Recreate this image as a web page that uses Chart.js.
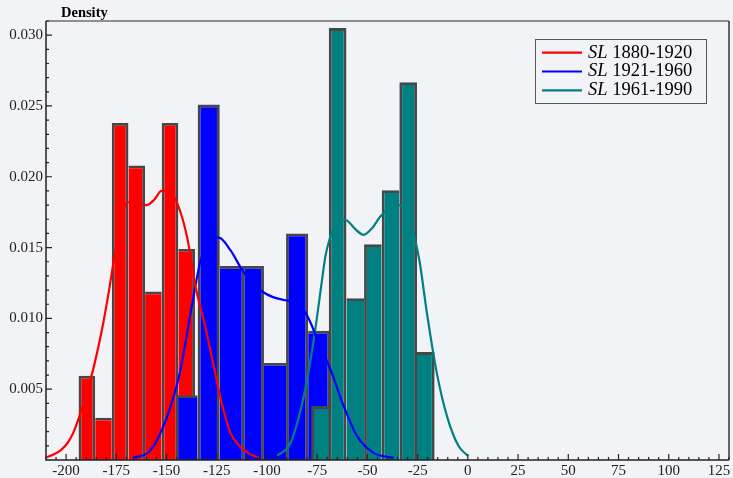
<!DOCTYPE html>
<html><head><meta charset="utf-8">
<script src="https://cdn.jsdelivr.net/npm/chart.js@4.4.1/dist/chart.umd.min.js"></script>
<style>html,body{margin:0;padding:0;background:#f2f3f7;}canvas{display:block;}</style>
</head><body>
<canvas id="c" width="733" height="478"></canvas>
<script>
// ---------- data ----------
const seriesNames = ['1880-1920', '1921-1960', '1961-1990'];
const seriesColors = ['#ff0000', '#0000ff', '#008080'];

// histograms: left edge of first bin, bin width, densities
const redBinStart = -193.8, redBinWidth = 8.28;
const redDensity = [0.00595, 0.00298, 0.0238, 0.0208, 0.0119, 0.0238, 0.0149];
const blueBinStart = -145.5, blueBinWidth = 11.0;
const blueDensity = [0.00457, 0.0251, 0.0137, 0.0137, 0.00685, 0.0160, 0.00913];
const tealBinStart = -78.0, tealBinWidth = 8.78;
const tealDensity = [0.00381, 0.0305, 0.01143, 0.01524, 0.01905, 0.02667, 0.00762];

// kernel density curves
const redKdeX = [-209.6, -206, -202.6, -199.3, -196.5, -193.8, -190, -186, -182, -178.6, -176, -173, -169.5, -165, -160, -156, -152.5, -149, -144.6, -139.7, -135.5, -131, -127.2, -122.5, -118.1, -113, -108.2, -104.1];
const redKdeY = [0.0002, 0.0004, 0.0007, 0.0012, 0.0019, 0.0029, 0.0046, 0.0067, 0.0093, 0.0120, 0.0143, 0.0166, 0.0182, 0.0182, 0.0180, 0.0184, 0.0190, 0.0190, 0.0181, 0.0157, 0.0122, 0.0096, 0.0071, 0.0040, 0.0019, 0.0009, 0.0004, 0.00015];
const blueKdeX = [-166.7, -157.9, -149.6, -143, -138, -133, -128.1, -124, -118.1, -112.7, -108, -102.4, -97, -91.6, -86, -81.7, -78, -75, -68.4, -61.8, -55.2, -46.9, -37];
const blueKdeY = [0.00015, 0.0007, 0.0031, 0.0064, 0.0104, 0.0141, 0.0155, 0.0157, 0.0148, 0.0135, 0.0126, 0.0119, 0.0115, 0.0113, 0.0111, 0.0106, 0.0096, 0.0085, 0.0064, 0.0038, 0.0017, 0.0005, 0.00015];
const tealKdeX = [-94.9, -88.3, -81.7, -76.7, -72.6, -70.9, -68.4, -66, -63, -60.1, -56, -51.9, -47.5, -43.6, -38.5, -34.5, -30.5, -27, -24, -20.4, -15.4, -10.4, -4.7, 0];
const tealKdeY = [0.0003, 0.0012, 0.0045, 0.0085, 0.0127, 0.0144, 0.0158, 0.0166, 0.0170, 0.0169, 0.0163, 0.0159, 0.0164, 0.0172, 0.0178, 0.0180, 0.0175, 0.0160, 0.0140, 0.0104, 0.0061, 0.0031, 0.0010, 0.0003];

// axes
const xMin = -210, xMax = 130;
const yMin = 0, yMax = 0.031;
const xTicks = [-200, -175, -150, -125, -100, -75, -50, -25, 0, 25, 50, 75, 100, 125];
const yTicks = [0.005, 0.010, 0.015, 0.020, 0.025, 0.030];
const xMinorStep = 5, yMinorStep = 0.001;
const yTitle = 'Density';
const legendPrefix = 'SL';

// ---------- build ----------
const SERIF = "'Liberation Serif', 'Times New Roman', serif";
const BG = '#f2f3f7';
const BW = 2.8;

function barPoints(start, width, dens) {
  return dens.map((d, i) => ({ x: start + (i + 0.5) * width, y: d }));
}
function linePoints(xs, ys) { return xs.map((x, i) => ({ x: x, y: ys[i] })); }

function borderFor(c) {
  const data = c.dataset.data, i = c.dataIndex, h = data[i] ? data[i].y : 0;
  const prev = i > 0 ? data[i - 1].y : -1;
  const next = i < data.length - 1 ? data[i + 1].y : -1;
  return { top: BW, bottom: 0, left: (prev <= h) ? BW : 0, right: (next < h) ? BW : 0 };
}

function barDataset(points, color, axis, order) {
  return {
    type: 'bar', data: points, xAxisID: axis, yAxisID: 'y', order: order,
    backgroundColor: color, borderColor: '#474747', borderWidth: borderFor,
    borderSkipped: 'start', barPercentage: 1, categoryPercentage: 1, grouped: false,
    inflateAmount: 0
  };
}
function lineDataset(points, color) {
  return {
    type: 'line', data: points, xAxisID: 'x', yAxisID: 'y', order: 0,
    borderColor: color, borderWidth: 2.2, pointRadius: 0, fill: false,
    cubicInterpolationMode: 'monotone'
  };
}

const hiddenAxis = () => ({ type: 'linear', display: false, offset: false, min: xMin, max: xMax,
  grid: { offset: false }, ticks: { stepSize: 100, includeBounds: false } });

const decor = {
  id: 'decor',
  beforeDraw(chart) {
    const ctx = chart.ctx;
    ctx.save(); ctx.fillStyle = BG; ctx.fillRect(0, 0, chart.width, chart.height); ctx.restore();
  },
  afterDatasetsDraw(chart) {
    const ctx = chart.ctx, ca = chart.chartArea, xs = chart.scales.x, ys = chart.scales.y;
    ctx.save();
    // frame
    ctx.lineWidth = 1.5;
    ctx.strokeStyle = '#6e6e6e';
    ctx.beginPath(); ctx.moveTo(ca.left, ca.top); ctx.lineTo(ca.right, ca.top); ctx.stroke();
    ctx.strokeStyle = '#333';
    ctx.beginPath(); ctx.moveTo(ca.right, ca.top); ctx.lineTo(ca.right, ca.bottom); ctx.stroke();
    ctx.strokeStyle = '#222';
    ctx.beginPath(); ctx.moveTo(ca.left, ca.top); ctx.lineTo(ca.left, ca.bottom); ctx.lineTo(ca.right, ca.bottom); ctx.stroke();
    // ticks (inward)
    ctx.lineWidth = 1.2; ctx.strokeStyle = '#222';
    ctx.beginPath();
    for (let v = Math.ceil(xMin / xMinorStep) * xMinorStep; v <= xMax; v += xMinorStep) {
      const p = xs.getPixelForValue(v);
      const major = xTicks.includes(v);
      ctx.moveTo(p, ca.bottom); ctx.lineTo(p, ca.bottom - (major ? 6 : 3));
    }
    for (let k = 1; k * yMinorStep <= yMax + 1e-9; k++) {
      const v = k * yMinorStep;
      const p = ys.getPixelForValue(v);
      const major = yTicks.some(t => Math.abs(t - v) < 1e-9);
      ctx.moveTo(ca.left, p); ctx.lineTo(ca.left + (major ? 6 : 3), p);
    }
    ctx.stroke();
    // y title
    ctx.fillStyle = '#000';
    ctx.font = 'bold 14.5px ' + SERIF;
    ctx.textBaseline = 'alphabetic'; ctx.textAlign = 'left';
    ctx.fillText(yTitle, ca.left + 15, ca.top - 4);
    // legend
    const lx = ca.right - 194, ly = ca.top + 18, lw = 171, lh = 64;
    ctx.lineWidth = 1; ctx.strokeStyle = '#555';
    ctx.strokeRect(Math.round(lx) + 0.5, Math.round(ly) + 0.5, lw, lh);
    seriesNames.forEach((name, i) => {
      const y = ly + 13.7 + i * 18.8;
      ctx.strokeStyle = seriesColors[i]; ctx.lineWidth = 2.2;
      ctx.beginPath(); ctx.moveTo(lx + 7, y); ctx.lineTo(lx + 47, y); ctx.stroke();
      ctx.fillStyle = '#000'; ctx.textBaseline = 'middle';
      ctx.font = 'italic 18.5px ' + SERIF;
      ctx.fillText(legendPrefix, lx + 53, y);
      const w = ctx.measureText(legendPrefix + ' ').width;
      ctx.font = '18.5px ' + SERIF;
      ctx.fillText(name, lx + 53 + w, y);
    });
    ctx.restore();
  }
};

new Chart(document.getElementById('c'), {
  type: 'bar',
  data: {
    datasets: [
      lineDataset(linePoints(redKdeX, redKdeY), seriesColors[0]),
      lineDataset(linePoints(blueKdeX, blueKdeY), seriesColors[1]),
      lineDataset(linePoints(tealKdeX, tealKdeY), seriesColors[2]),
      barDataset(barPoints(tealBinStart, tealBinWidth, tealDensity), seriesColors[2], 'xt', 1),
      barDataset(barPoints(blueBinStart, blueBinWidth, blueDensity), seriesColors[1], 'xb', 2),
      barDataset(barPoints(redBinStart, redBinWidth, redDensity), seriesColors[0], 'xr', 3)
    ]
  },
  options: {
    responsive: false, animation: false, events: [],
    layout: { padding: { top: 21, right: 4, left: 0, bottom: 0 } },
    plugins: { legend: { display: false }, tooltip: { enabled: false }, title: { display: false } },
    scales: {
      x: {
        type: 'linear', position: 'bottom', min: xMin, max: xMax, offset: false,
        afterBuildTicks: s => { s.ticks = xTicks.map(v => ({ value: v })); },
        afterFit: s => { s.height = 18; },
        grid: { display: false, drawTicks: false, offset: false }, border: { display: false },
        ticks: { autoSkip: false, maxRotation: 0, padding: 2, color: '#222',
          font: { family: SERIF, size: 15 }, callback: v => String(v) }
      },
      xr: hiddenAxis(), xb: hiddenAxis(), xt: hiddenAxis(),
      y: {
        type: 'linear', position: 'left', min: yMin, max: yMax,
        afterBuildTicks: s => { s.ticks = yTicks.map(v => ({ value: v })); },
        afterFit: s => { s.width = 46; },
        grid: { display: false, drawTicks: false }, border: { display: false },
        ticks: { padding: 3, color: '#222', font: { family: SERIF, size: 15 },
          callback: v => Number(v).toFixed(3) }
      }
    }
  },
  plugins: [decor]
});
</script>
</body></html>
